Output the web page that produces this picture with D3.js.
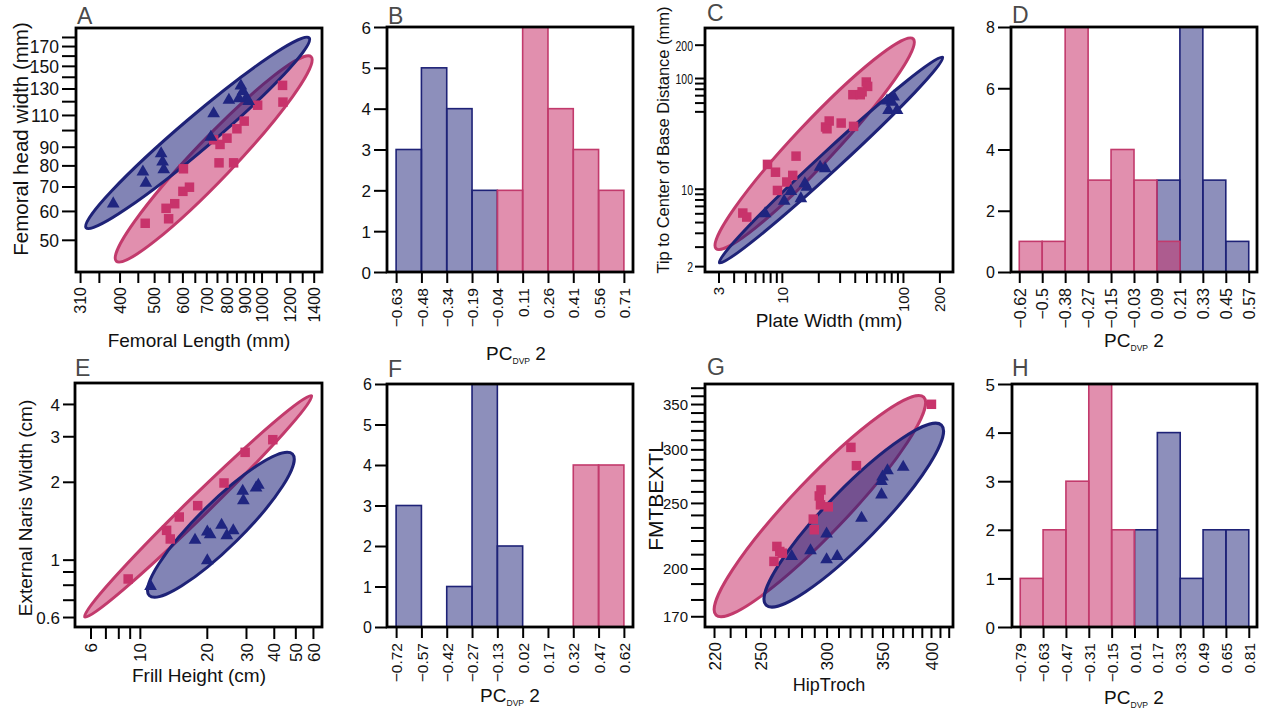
<!DOCTYPE html>
<html><head><meta charset="utf-8">
<script src="https://cdn.jsdelivr.net/npm/d3@7"></script>
<style>body{margin:0;background:#fff}</style>
</head><body>
<script>
// ---------------- DATA ----------------
// Panel A (Femoral length vs head width)
const aBlueX = [384,465,474,523,528,532,721,734,810,864,875,887,906,920];
const aBlueY = [63.4,77.5,72.2,87.0,82.6,78.6,96.6,112,122,123.2,133.4,129,123.6,121.1];
const aPinkX = [472,540,549,571,602,628,604,734,765,800,760,835,853,894,975,1145,1148];
const aPinkY = [55.5,61,57.1,62.8,67.9,69.7,78.3,94,91.3,95,81.3,81.3,100.8,105.8,117,132.6,119.3];
const aXTicks = [310,350,400,450,500,550,600,650,700,750,800,850,900,950,1000,1100,1200,1300,1400];
const aXLabels = [310,400,500,600,700,800,900,1000,1200,1400];
const aYTicks = [50,60,70,80,90,100,110,120,130,140,150,160,170,180];
const aYLabels = [50,60,70,80,90,110,130,150,170];
const aEllBlue = [[320,53.6],[1370,180]];
const aEllPink = [[389,43.4],[1386,160]];

// Panel B histogram
const bEdges = ["−0.63","−0.48","−0.34","−0.19","−0.04","0.11","0.26","0.41","0.56","0.71"];
const bBlue = [3,5,4,2,0,0,0,0,0];
const bPink = [0,0,0,0,2,6,4,3,2];
const bYTicks = [0,1,2,3,4,5,6];

// Panel C (Plate width vs tip distance)
const cPinkX = [4.76,5.13,7.61,8.86,9.2,10.99,12.3,13.1,22.96,24.6,23.6,30.9,39.1,38.6,44.4,49.8,51.1,46];
const cPinkY = [6.03,5.55,16.6,14.1,9.65,11.5,13.2,19.7,36.1,40.9,34.8,39.2,36.6,70.7,70.7,92,84,75];
const cBlueX = [7.28,10.45,11.87,14.36,15.5,16.1,20.7,22.8,73.9,83.8,76.1,89.4,81];
const cBlueY = [6.15,8.0,9.8,8.4,11.5,10.7,16.2,15.7,64.1,69.8,52.8,52.8,62.7];
const cXTicks = [3,4,5,6,7,8,9,10,20,30,40,50,60,70,80,90,100,200];
const cXLabels = [3,10,100,200];
const cYTicks = [2,3,4,5,6,7,8,9,10,50,60,70,80,90,100,200];
const cYLabels = [2,10,100,200];
const cEllPink = [[2.81,2.81],[124,231]];
const cEllBlue = [[2.99,2.1],[217,157]];

// Panel D histogram
const dEdges = ["−0.62","−0.5","−0.38","−0.27","−0.15","−0.03","0.09","0.21","0.33","0.45","0.57"];
const dBlue = [0,0,0,0,0,0,3,8,3,1];
const dPink = [1,1,8,3,4,3,1,0,0,0];
const dYTicks = [0,2,4,6,8];

// Panel E (Frill height vs external naris width)
const ePinkX = [8.86,13.19,13.7,15.04,18.2,23.9,29.74,39.6];
const ePinkY = [0.842,1.298,1.202,1.462,1.617,1.979,2.6,2.91];
const eBlueX = [11.17,17.7,20.1,20.7,20.1,23.3,24.6,26.3,29.0,29.2,33.3,34.1];
const eBlueY = [0.80,1.206,1.298,1.268,1.006,1.378,1.257,1.314,1.865,1.716,1.92,1.97];
const eXTicks = [6,7,8,9,10,20,30,40,50,60];
const eXLabels = [6,10,20,30,40,50,60];
const eYTicks = [0.6,0.7,0.8,0.9,1,2,3,4];
const eYLabels = [0.6,1,2,3,4];
const eEllPink = [[5.59,0.595],[59.8,4.34]];
const eEllBlue = [[10.9,0.72],[49.1,2.585]];

// Panel F histogram
const fEdges = ["−0.72","−0.57","−0.42","−0.27","−0.13","0.02","0.17","0.32","0.47","0.62"];
const fBlue = [3,0,1,6,2,0,0,0,0];
const fPink = [0,0,0,0,0,0,0,4,4];
const fYTicks = [0,1,2,3,4,5,6];

// Panel G (HipTroch vs FMTBEXTL)
const gPinkX = [259.5,261.6,263.7,265.6,289.2,290,294,295.4,295,301.4,320.8,325.7,400.5];
const gPinkY = [204.9,215.6,211.9,210.7,236.6,228.2,256,261.3,248.4,246.7,302,283.8,349.7];
const gBlueX = [272.5,287,300,300,308.9,330.3,349,349,350,354.8,370.5];
const gBlueY = [209.6,213.7,226.1,207.2,209.6,238.7,258.4,270.4,274.7,280.6,283.8];
const gXTicks = [220,230,240,250,260,270,280,290,300,310,320,330,340,350,360,370,380,390,400,410,420];
const gXLabels = [220,250,300,350,400];
const gYTicks = [170,180,190,200,210,220,230,240,250,260,270,280,290,300,310,320,330,340,350,360,370];
const gYLabels = [170,200,250,300,350];
const gEllPink = [[220.6,170],[393.2,359.6]];
const gEllBlue = [[253.2,175.9],[412.9,327]];

// Panel H histogram
const hEdges = ["−0.79","−0.63","−0.47","−0.31","−0.15","0.01","0.17","0.33","0.49","0.65","0.81"];
const hBlue = [0,0,0,0,0,2,4,1,2,2];
const hPink = [1,2,3,5,2,0,0,0,0,0];
const hYTicks = [0,1,2,3,4,5];

// ---------------- STYLE ----------------
const FONT = "'Liberation Sans', Arial, Helvetica, sans-serif";
const BLUE = "#1c1f78", PINK = "#c8336b";
const BLUE_STROKE = "#1e2277", PINK_STROKE = "#c23a6c";

const svg = d3.select("body").append("svg")
  .attr("width", 1264).attr("height", 713)
  .style("font-family", FONT);
svg.append("rect").attr("width",1264).attr("height",713).attr("fill","#fff");

function styleXAxis(gx, o) {
  gx.select(".domain").remove();
  gx.selectAll("line").attr("stroke","#000").attr("stroke-width",2);
  gx.selectAll("text")
    .attr("transform","rotate(-90)")
    .attr("x", -(o.xTickLen + o.xGap)).attr("y", 0).attr("dy","0.36em")
    .attr("text-anchor","end").attr("fill","#111")
    .style("font-size", o.xFont + "px");
}
function styleYAxis(gy, o) {
  gy.select(".domain").remove();
  gy.selectAll("line").attr("stroke","#000").attr("stroke-width",2);
  const sx = o.ySX || 1;
  gy.selectAll("text")
    .attr("x", -(o.yTickLen + o.yGap) / sx).attr("dy","0.36em")
    .attr("transform", `scale(${sx},1)`)
    .attr("text-anchor","end").attr("fill","#111")
    .style("font-size", o.yFont + "px");
}
function frame(g, f) {
  g.append("rect").attr("x", f[0]).attr("y", f[1]).attr("width", f[2]-f[0]).attr("height", f[3]-f[1])
    .attr("fill","none").attr("stroke","#000").attr("stroke-width",2.8);
}
function letter(t, x, y) {
  svg.append("text").attr("x", x).attr("y", y).text(t)
    .attr("fill","#4a4a4a").style("font-size","23px");
}
function xTitle(t, x, y, size) {
  svg.append("text").attr("x", x).attr("y", y).attr("text-anchor","middle")
    .attr("fill","#111").style("font-size", size + "px").text(t);
}
function pcTitle(x, y, size) {
  const t = svg.append("text").attr("x", x).attr("y", y).attr("text-anchor","middle")
    .attr("fill","#111").style("font-size", size + "px");
  t.append("tspan").text("PC");
  t.append("tspan").attr("dy", 4).style("font-size", (size*0.45) + "px").text("DVP");
  t.append("tspan").attr("dy", -4).text(" 2");
}
function yTitle(t, x, y, size) {
  svg.append("text").attr("transform", `translate(${x},${y}) rotate(-90)`)
    .attr("text-anchor","middle").attr("dy","0.35em")
    .attr("fill","#111").style("font-size", size + "px").text(t);
}

function scatter(p) {
  const g = svg.append("g");
  const [L,T,R,B] = p.frame;
  const x = d3.scaleLog().domain(p.xDomain).range([L,R]);
  const y = d3.scaleLog().domain(p.yDomain).range([B,T]);
  p.ellipses.forEach(e => {
    const x1 = x(e.pts[0][0]), y1 = y(e.pts[0][1]), x2 = x(e.pts[1][0]), y2 = y(e.pts[1][1]);
    const cx = (x1+x2)/2, cy = (y1+y2)/2;
    const len = Math.hypot(x2-x1, y2-y1);
    const ang = Math.atan2(y2-y1, x2-x1) * 180 / Math.PI;
    g.append("ellipse").attr("cx",cx).attr("cy",cy)
      .attr("rx", len/2 - 1.5).attr("ry", len/2*e.ratio)
      .attr("transform", `rotate(${ang},${cx},${cy})`)
      .attr("fill", e.fill).attr("fill-opacity", 0.55)
      .attr("stroke", e.stroke).attr("stroke-width", 3);
  });
  const sq = d3.symbol(d3.symbolSquare, 90)();
  const tri = d3.symbol(d3.symbolTriangle, 70)();
  g.selectAll(".sq").data(d3.zip(p.pinkX, p.pinkY)).join("path")
    .attr("d", sq).attr("transform", d => `translate(${x(d[0])},${y(d[1])})`).attr("fill", "#c8336b");
  g.selectAll(".tri").data(d3.zip(p.blueX, p.blueY)).join("path")
    .attr("d", tri).attr("transform", d => `translate(${x(d[0])},${y(d[1])+1.5})`).attr("fill", "#1f2580");
  const gx = g.append("g").attr("transform", `translate(0,${B})`)
    .call(d3.axisBottom(x).tickValues(p.xTicks).tickSize(p.xTickLen)
      .tickFormat(d => p.xLabels.includes(d) ? String(d) : ""));
  styleXAxis(gx, p);
  const gy = g.append("g").attr("transform", `translate(${L},0)`)
    .call(d3.axisLeft(y).tickValues(p.yTicks).tickSize(p.yTickLen)
      .tickFormat(d => p.yLabels.includes(d) ? String(d) : ""));
  styleYAxis(gy, p);
  frame(g, p.frame);
}

function hist(p) {
  const g = svg.append("g");
  const [L,T,R,B] = p.frame;
  const x = d3.scalePoint().domain(p.edges).range([L,R]).padding(0.36);
  const y = d3.scaleLinear().domain([0, d3.max(p.yTicks)]).range([B,T]);
  const draw = (counts, fill, op, stroke) => {
    const bins = counts.map((c,i) => ({c, i})).filter(d => d.c > 0);
    g.append("g").selectAll("rect").data(bins).join("rect")
      .attr("x", d => x(p.edges[d.i]))
      .attr("width", d => x(p.edges[d.i+1]) - x(p.edges[d.i]))
      .attr("y", d => y(d.c)).attr("height", d => y(0) - y(d.c))
      .attr("fill", fill).attr("fill-opacity", op)
      .attr("stroke", stroke).attr("stroke-width", 1.6);
  };
  draw(p.blue, BLUE, 0.5, BLUE_STROKE);
  draw(p.pink, PINK, 0.55, PINK_STROKE);
  const gx = g.append("g").attr("transform", `translate(0,${B})`)
    .call(d3.axisBottom(x).tickSize(p.xTickLen));
  styleXAxis(gx, p);
  const gy = g.append("g").attr("transform", `translate(${L},0)`)
    .call(d3.axisLeft(y).tickValues(p.yTicks).tickSize(p.yTickLen).tickFormat(d3.format("d")));
  styleYAxis(gy, p);
  frame(g, p.frame);
}

// ---------------- PANELS ----------------
scatter({frame:[76,28,322,272], xDomain:[302,1477], yDomain:[40.8,190.5],
  pinkX:aPinkX, pinkY:aPinkY, blueX:aBlueX, blueY:aBlueY,
  xTicks:aXTicks, xLabels:aXLabels, yTicks:aYTicks, yLabels:aYLabels,
  ellipses:[{pts:aEllPink, ratio:0.14, fill:PINK, stroke:PINK_STROKE},
            {pts:aEllBlue, ratio:0.11, fill:BLUE, stroke:BLUE_STROKE}],
  xTickLen:11, xGap:4, xFont:16, yTickLen:14, yGap:3, yFont:17.5});

hist({frame:[387,27,633,272], edges:bEdges, blue:bBlue, pink:bPink, yTicks:bYTicks,
  xTickLen:11, xGap:5, xFont:15.5, yTickLen:13, yGap:3, yFont:17});

scatter({frame:[705,28,953,272], xDomain:[2.32,259], yDomain:[1.77,283],
  pinkX:cPinkX, pinkY:cPinkY, blueX:cBlueX, blueY:cBlueY,
  xTicks:cXTicks, xLabels:cXLabels, yTicks:cYTicks, yLabels:cYLabels,
  ellipses:[{pts:cEllPink, ratio:0.14, fill:PINK, stroke:PINK_STROKE},
            {pts:cEllBlue, ratio:0.065, fill:BLUE, stroke:BLUE_STROKE}],
  xTickLen:11, xGap:4, xFont:15, yTickLen:10, yGap:2, yFont:15, ySX:0.7});

hist({frame:[1011,27,1257,272], edges:dEdges, blue:dBlue, pink:dPink, yTicks:dYTicks,
  xTickLen:11, xGap:5, xFont:16, yTickLen:13, yGap:3, yFont:16});

scatter({frame:[75,383,322,627], xDomain:[5.11,65.9], yDomain:[0.549,4.82],
  pinkX:ePinkX, pinkY:ePinkY, blueX:eBlueX, blueY:eBlueY,
  xTicks:eXTicks, xLabels:eXLabels, yTicks:eYTicks, yLabels:eYLabels,
  ellipses:[{pts:eEllPink, ratio:0.065, fill:PINK, stroke:PINK_STROKE},
            {pts:eEllBlue, ratio:0.22, fill:BLUE, stroke:BLUE_STROKE}],
  xTickLen:12, xGap:4, xFont:17, yTickLen:12, yGap:3, yFont:17});

hist({frame:[387,384,633,627], edges:fEdges, blue:fBlue, pink:fPink, yTicks:fYTicks,
  xTickLen:11, xGap:5, xFont:15.5, yTickLen:12, yGap:3, yFont:16});

scatter({frame:[705,384,953,627], xDomain:[214.6,425], yDomain:[163.9,374.7],
  pinkX:gPinkX, pinkY:gPinkY, blueX:gBlueX, blueY:gBlueY,
  xTicks:gXTicks, xLabels:gXLabels, yTicks:gYTicks, yLabels:gYLabels,
  ellipses:[{pts:gEllPink, ratio:0.18, fill:PINK, stroke:PINK_STROKE},
            {pts:gEllBlue, ratio:0.21, fill:BLUE, stroke:BLUE_STROKE}],
  xTickLen:11, xGap:4, xFont:17, yTickLen:14, yGap:3, yFont:15});

hist({frame:[1012,384,1257,627], edges:hEdges, blue:hBlue, pink:hPink, yTicks:hYTicks,
  xTickLen:11, xGap:5, xFont:15.5, yTickLen:14, yGap:3, yFont:17});

// ---------------- TEXT ----------------
letter("A", 77, 24); letter("B", 388, 24); letter("C", 707, 21); letter("D", 1012, 23);
letter("E", 75, 376); letter("F", 388, 377); letter("G", 707, 375); letter("H", 1012, 376);

xTitle("Femoral Length (mm)", 199, 347, 19);
pcTitle(516, 360, 19);
xTitle("Plate Width (mm)", 829, 327, 19);
pcTitle(1134, 347, 19);
xTitle("Frill Height (cm)", 199, 682, 19);
pcTitle(510, 702, 19);
xTitle("HipTroch", 829, 691, 18);
pcTitle(1134, 704, 19);

yTitle("Femoral head width (mm)", 21, 139, 20.5);
yTitle("Tip to Center of Base Distance (mm)", 663, 140, 16.5);
yTitle("External Naris Width (cm)", 25, 508, 19);
yTitle("FMTBEXTL", 656, 496, 21);
</script>
</body></html>
